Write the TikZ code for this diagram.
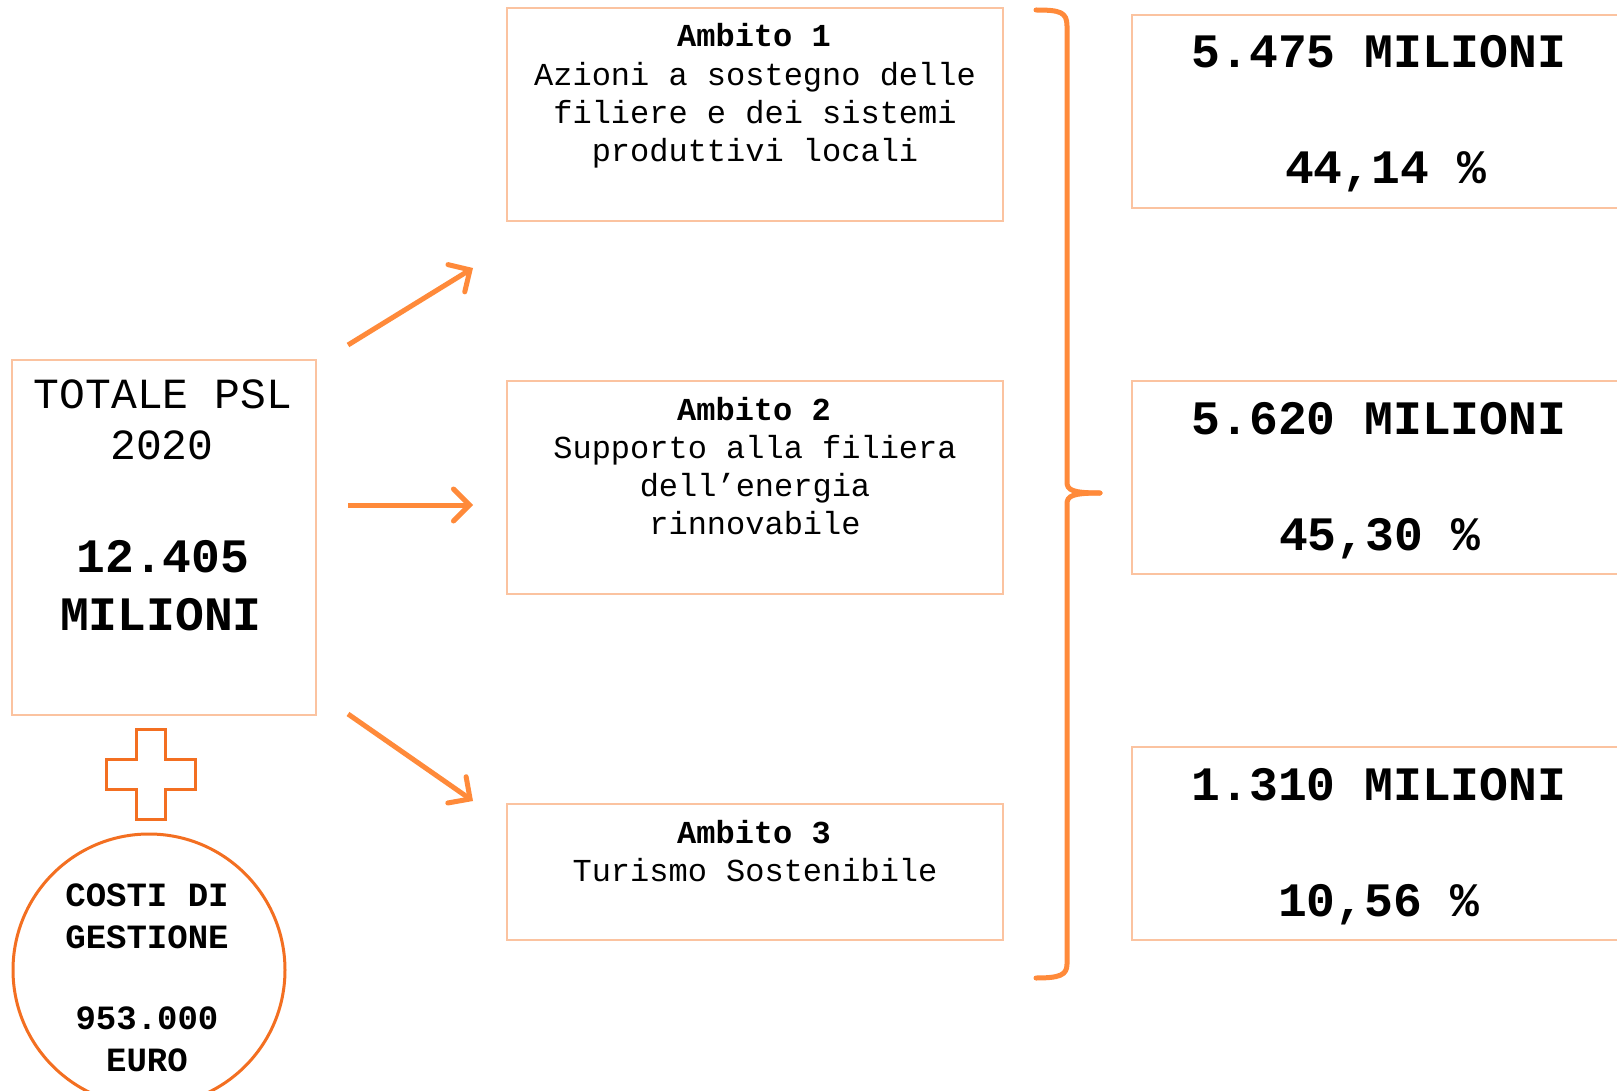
\documentclass[tikz,border=0pt]{standalone}
\usepackage{fontspec}
\setmonofont{Liberation Mono}
\usetikzlibrary{arrows.meta}
\definecolor{boxor}{HTML}{FBC3A0}
\definecolor{arrowor}{HTML}{FF8A3A}
\definecolor{crossor}{HTML}{F36F21}
\tikzset{
  frame/.style={draw=boxor, line width=2pt, anchor=north west, inner sep=0pt},
  arr/.style={draw=arrowor, line width=5pt, -{Straight Barb[length=16pt,width=32pt,line cap=round]}},
  tbig/.style={anchor=base, inner sep=0pt, font=\ttfamily\fontsize{43}{52}\selectfont},
  tbold/.style={anchor=base, inner sep=0pt, font=\ttfamily\bfseries\fontsize{48}{58}\selectfont},
  tamb/.style={anchor=base, inner sep=0pt, font=\ttfamily\fontsize{32}{38}\selectfont},
  tambb/.style={anchor=base, inner sep=0pt, font=\ttfamily\bfseries\fontsize{32}{38}\selectfont},
  tcirc/.style={anchor=base, inner sep=0pt, font=\ttfamily\bfseries\fontsize{34}{42}\selectfont},
}
\begin{document}
\begin{tikzpicture}[x=1pt,y=-1pt]
\useasboundingbox (0,0) rectangle (1617,1091);
\fill[white] (0,0) rectangle (1617,1091);

% left total box
\node[frame, minimum width=304pt, minimum height=355pt] (tot) at (11,359) {};
\node[tbig] (tot1) at (163,408) {TOTALE PSL};
\node[tbig] (tot2) at (162,459) {2020};
\node[tbold] (tot3) at (163,572) {12.405};
\node[tbold] (tot4) at (161,630) {MILIONI};

% plus sign
\draw[crossor, line width=3pt, line join=miter]
  (136,729) -- (165,729) -- (165,759) -- (195,759) -- (195,789) -- (165,789)
  -- (165,819) -- (136,819) -- (136,789) -- (106,789) -- (106,759) -- (136,759) -- cycle;

% circle
\node[draw=crossor, line width=3pt, circle, minimum size=272pt, inner sep=0pt] (costi) at (149,970) {};
\node[tcirc] (c1) at (147,906) {COSTI DI};
\node[tcirc] (c2) at (147,948) {GESTIONE};
\node[tcirc] (c3) at (147,1029) {953.000};
\node[tcirc] (c4) at (147,1071) {EURO};

% Ambito boxes
\node[frame, minimum width=496pt, minimum height=213pt] (amb1) at (506,7) {};
\node[tambb] (a1t) at (754,47) {Ambito 1};
\node[tamb] (a1a) at (755,86) {Azioni a sostegno delle};
\node[tamb] (a1b) at (755,124) {filiere e dei sistemi};
\node[tamb] (a1c) at (755,162) {produttivi locali};

\node[frame, minimum width=496pt, minimum height=213pt] (amb2) at (506,380) {};
\node[tambb] (a2t) at (754,420) {Ambito 2};
\node[tamb] (a2a) at (755,458) {Supporto alla filiera};
\node[tamb] (a2b) at (755,496) {dell’energia};
\node[tamb] (a2c) at (755,534) {rinnovabile};

\node[frame, minimum width=496pt, minimum height=136pt] (amb3) at (506,803) {};
\node[tambb] (a3t) at (754,843) {Ambito 3};
\node[tamb] (a3a) at (755,881) {Turismo Sostenibile};

% arrows
\coordinate (s1) at (348,345); \coordinate (e1) at (473,268);
\coordinate (s2) at (348,505); \coordinate (e2) at (473,505);
\coordinate (s3) at (348,714); \coordinate (e3) at (473,801);
\draw[arr] (s1) -- (e1);
\draw[arr] (s2) -- (e2);
\draw[arr] (s3) -- (e3);

% bracket
\draw[arrowor, line width=5pt, line cap=round, line join=round]
  (1036,10) .. controls (1060,10) and (1067,12) .. (1067,26) -- (1067,482)
  .. controls (1067,490) and (1072,493) .. (1100,493);
\draw[arrowor, line width=5pt, line cap=round, line join=round]
  (1100,493) .. controls (1072,493) and (1067,496) .. (1067,504) -- (1067,964)
  .. controls (1067,975) and (1060,978) .. (1036,978);

% right boxes
\node[frame, minimum width=494pt, minimum height=193pt] (r1) at (1131,14) {};
\node[tbold] (r1a) at (1379,68) {5.475 MILIONI};
\node[tbold] (r1b) at (1386,184) {44,14 \%};

\node[frame, minimum width=494pt, minimum height=193pt] (r2) at (1131,380) {};
\node[tbold] (r2a) at (1379,434) {5.620 MILIONI};
\node[tbold] (r2b) at (1380,550) {45,30 \%};

\node[frame, minimum width=494pt, minimum height=193pt] (r3) at (1131,746) {};
\node[tbold] (r3a) at (1379,800) {1.310 MILIONI};
\node[tbold] (r3b) at (1379,916) {10,56 \%};
\end{tikzpicture}
\end{document}
